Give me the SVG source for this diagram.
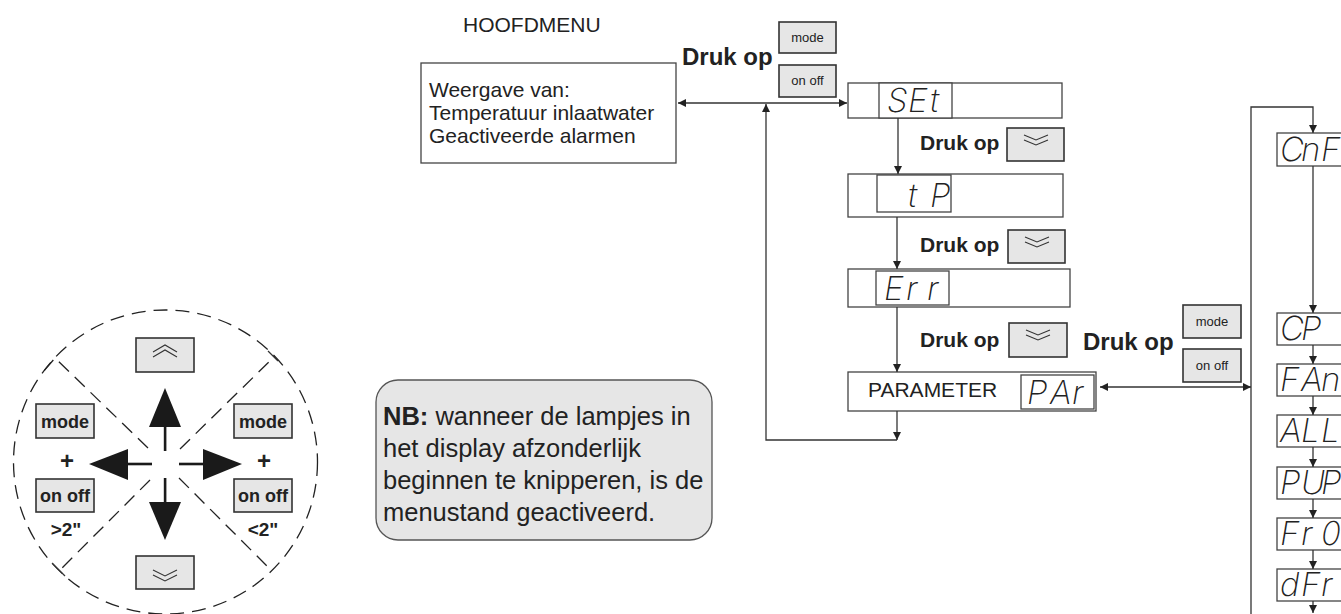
<svg xmlns="http://www.w3.org/2000/svg" width="1341" height="614" viewBox="0 0 1341 614">
<defs>
<style>
.t{font-family:"Liberation Sans",Arial,sans-serif;fill:#222}
.b{font-family:"Liberation Sans",Arial,sans-serif;font-weight:bold;fill:#222}
.seg{font-family:Inter,"DejaVu Sans",sans-serif;font-style:italic;font-weight:200;font-size:33px;fill:#222}
.box{fill:#fff;stroke:#444;stroke-width:1.3}
.btn{fill:#e6e6e6;stroke:#333;stroke-width:1.6}
.ln{fill:none;stroke:#333;stroke-width:1.3}
.ic{fill:none;stroke:#333;stroke-width:1.1}
.dash{fill:none;stroke:#222;stroke-width:1.3;stroke-dasharray:14 8}
</style>
<marker id="ah" viewBox="0 0 10 10" refX="10" refY="5" markerWidth="8" markerHeight="8" markerUnits="userSpaceOnUse" orient="auto-start-reverse">
<path d="M0,0 L10,5 L0,10 Z" fill="#222"/>
</marker>
</defs>
<rect width="1341" height="614" fill="#fff"/>

<text class="t" x="463" y="32" font-size="21">HOOFDMENU</text>

<g id="main-display">
<rect class="box" x="421" y="63" width="255" height="100"/>
<text class="t" x="429" y="97" font-size="21">Weergave van:</text>
<text class="t" x="429" y="120" font-size="21">Temperatuur inlaatwater</text>
<text class="t" x="429" y="143" font-size="21">Geactiveerde alarmen</text>
</g>

<g id="top-press">
<text class="b" x="682" y="65" font-size="24">Druk op</text>
<rect class="btn" x="779" y="22" width="57" height="31"/>
<text class="t" x="807.5" y="42" font-size="13" text-anchor="middle">mode</text>
<rect class="btn" x="779" y="65" width="57" height="32"/>
<text class="t" x="807.5" y="85" font-size="13" text-anchor="middle">on off</text>
</g>

<g id="set">
<rect class="box" x="848" y="83" width="214" height="35"/>
<rect class="box" x="879" y="83" width="73" height="35"/>
<text class="seg" x="887 908 930" y="112">SEt</text>
</g>
<g id="press1">
<text class="b" x="920" y="150" font-size="21">Druk op</text>
<rect class="btn" x="1007" y="128" width="57" height="33"/>
<polyline class="ic" points="1024,135 1036,140 1048,135"/>
<polyline class="ic" points="1024,140 1036,145 1048,140"/>
</g>
<g id="tp">
<rect class="box" x="848" y="174" width="215" height="43"/>
<rect class="box" x="877" y="175" width="74" height="37"/>
<text class="seg" x="908 930" y="207">tP</text>
</g>
<g id="press2">
<text class="b" x="920" y="252" font-size="21">Druk op</text>
<rect class="btn" x="1008" y="230" width="57" height="33"/>
<polyline class="ic" points="1025,237 1037,242 1049,237"/>
<polyline class="ic" points="1025,242 1037,247 1049,242"/>
</g>
<g id="err">
<rect class="box" x="848" y="269" width="222" height="38"/>
<rect class="box" x="876" y="271" width="73" height="34"/>
<text class="seg" x="884 906 927" y="300">Err</text>
</g>
<g id="press3">
<text class="b" x="920" y="347" font-size="21">Druk op</text>
<rect class="btn" x="1009" y="323" width="58" height="34"/>
<polyline class="ic" points="1026,330 1038,335 1050,330"/>
<polyline class="ic" points="1026,335 1038,340 1050,335"/>
</g>
<g id="parameter">
<rect class="box" x="848" y="372" width="248" height="39"/>
<text class="t" x="868" y="397" font-size="21">PARAMETER</text>
<rect class="box" x="1021" y="375" width="73" height="34"/>
<text class="seg" x="1027 1050 1072" y="404">PAr</text>
</g>
<g id="press-mode">
<text class="b" x="1083" y="350" font-size="24">Druk op</text>
<rect class="btn" x="1183" y="305" width="58" height="33"/>
<text class="t" x="1212" y="326" font-size="13" text-anchor="middle">mode</text>
<rect class="btn" x="1183" y="349" width="58" height="33"/>
<text class="t" x="1212" y="370" font-size="13" text-anchor="middle">on off</text>
</g>

<g id="cnf"><rect class="box" x="1277" y="133" width="80" height="33"/><text class="seg" x="1280 1301 1321" y="161">CnF</text></g>
<g id="cp"><rect class="box" x="1277" y="313" width="80" height="32"/><text class="seg" x="1280 1301" y="340">CP</text></g>
<g id="fan"><rect class="box" x="1277" y="364" width="80" height="32"/><text class="seg" x="1280 1301 1321" y="391">FAn</text></g>
<g id="all"><rect class="box" x="1277" y="415" width="80" height="32"/><text class="seg" x="1280 1301 1321" y="442">ALL</text></g>
<g id="pup"><rect class="box" x="1277" y="467" width="80" height="32"/><text class="seg" x="1280 1301 1321" y="494">PUP</text></g>
<g id="fr0"><rect class="box" x="1277" y="518" width="80" height="32"/><text class="seg" x="1280 1301 1321" y="545">Fr0</text></g>
<g id="dfr"><rect class="box" x="1277" y="569" width="80" height="32"/><text class="seg" x="1280 1301 1321" y="596">dFr</text></g>

<g id="connectors">
<line class="ln" x1="678" y1="103" x2="847" y2="103" marker-start="url(#ah)" marker-end="url(#ah)"/>
<polyline class="ln" points="897,440 766,440 766,104" marker-end="url(#ah)"/>
<line class="ln" x1="898" y1="118" x2="898" y2="174" marker-end="url(#ah)"/>
<line class="ln" x1="897" y1="217" x2="897" y2="269" marker-end="url(#ah)"/>
<line class="ln" x1="897" y1="307" x2="897" y2="372" marker-end="url(#ah)"/>
<line class="ln" x1="897" y1="411" x2="897" y2="440" marker-end="url(#ah)"/>
<line class="ln" x1="1100" y1="387" x2="1251" y2="387" marker-start="url(#ah)" marker-end="url(#ah)"/>
<polyline class="ln" points="1251,614 1251,107 1313,107 1313,133" marker-end="url(#ah)"/>
<line class="ln" x1="1313" y1="166" x2="1313" y2="313" marker-end="url(#ah)"/>
<line class="ln" x1="1313" y1="345" x2="1313" y2="364" marker-end="url(#ah)"/>
<line class="ln" x1="1313" y1="396" x2="1313" y2="415" marker-end="url(#ah)"/>
<line class="ln" x1="1313" y1="447" x2="1313" y2="467" marker-end="url(#ah)"/>
<line class="ln" x1="1313" y1="499" x2="1313" y2="518" marker-end="url(#ah)"/>
<line class="ln" x1="1313" y1="550" x2="1313" y2="569" marker-end="url(#ah)"/>
<line class="ln" x1="1313" y1="601" x2="1313" y2="613" marker-end="url(#ah)"/>
</g>

<g id="key-circle">
<circle class="dash" cx="165.5" cy="462" r="152"/>
<polyline class="dash" points="148,448 55,358 43,372"/>
<line class="dash" x1="180" y1="449" x2="275" y2="356"/>
<line class="ln" x1="268" y1="351" x2="278" y2="361"/>
<line class="dash" x1="150" y1="480" x2="60" y2="570"/>
<line class="ln" x1="52" y1="563" x2="65" y2="576"/>
<line class="dash" x1="179" y1="478" x2="271" y2="570"/>
<g fill="#1a1a1a">
<polygon points="165,388 181,427 149,427"/>
<rect x="163.8" y="426" width="2.6" height="25"/>
<polygon points="165,540 181,502 149,502"/>
<rect x="163.8" y="478" width="2.6" height="25"/>
<polygon points="89,464 128,449 128,480"/>
<rect x="127" y="462.7" width="25" height="2.6"/>
<polygon points="242,464 203,449 203,480"/>
<rect x="179" y="462.7" width="25" height="2.6"/>
</g>
</g>
<g id="btn-up">
<rect class="btn" x="136" y="338" width="58" height="34"/>
<polyline class="ic" points="153,352 165,345 177,352"/>
<polyline class="ic" points="153,357 165,350 177,357"/>
</g>
<g id="btn-down">
<rect class="btn" x="136" y="556" width="58" height="33"/>
<polyline class="ic" points="153,570 165,576 177,570"/>
<polyline class="ic" points="153,575 165,581 177,575"/>
</g>
<g id="btn-left">
<rect class="btn" x="36" y="404" width="58" height="34"/>
<text class="b" x="65" y="428" font-size="18" text-anchor="middle">mode</text>
<text class="b" x="67" y="469" font-size="24" text-anchor="middle">+</text>
<rect class="btn" x="36" y="479" width="58" height="33"/>
<text class="b" x="65" y="502" font-size="18" text-anchor="middle">on off</text>
<text class="b" x="66" y="536" font-size="19" text-anchor="middle">&gt;2"</text>
</g>
<g id="btn-right">
<rect class="btn" x="234" y="404" width="58" height="34"/>
<text class="b" x="263" y="428" font-size="18" text-anchor="middle">mode</text>
<text class="b" x="264" y="469" font-size="24" text-anchor="middle">+</text>
<rect class="btn" x="234" y="479" width="58" height="33"/>
<text class="b" x="263" y="502" font-size="18" text-anchor="middle">on off</text>
<text class="b" x="263" y="536" font-size="19" text-anchor="middle">&lt;2"</text>
</g>

<g id="note">
<rect x="376" y="380" width="336" height="160" rx="22" fill="#e6e6e6" stroke="#555" stroke-width="1.3"/>
<text class="t" x="383" y="425" font-size="25.5"><tspan font-weight="bold">NB:</tspan> wanneer de lampjes in</text>
<text class="t" x="383" y="457" font-size="25.5">het display afzonderlijk</text>
<text class="t" x="383" y="489" font-size="25.5">beginnen te knipperen, is de</text>
<text class="t" x="383" y="521" font-size="25.5">menustand geactiveerd.</text>
</g>
</svg>
